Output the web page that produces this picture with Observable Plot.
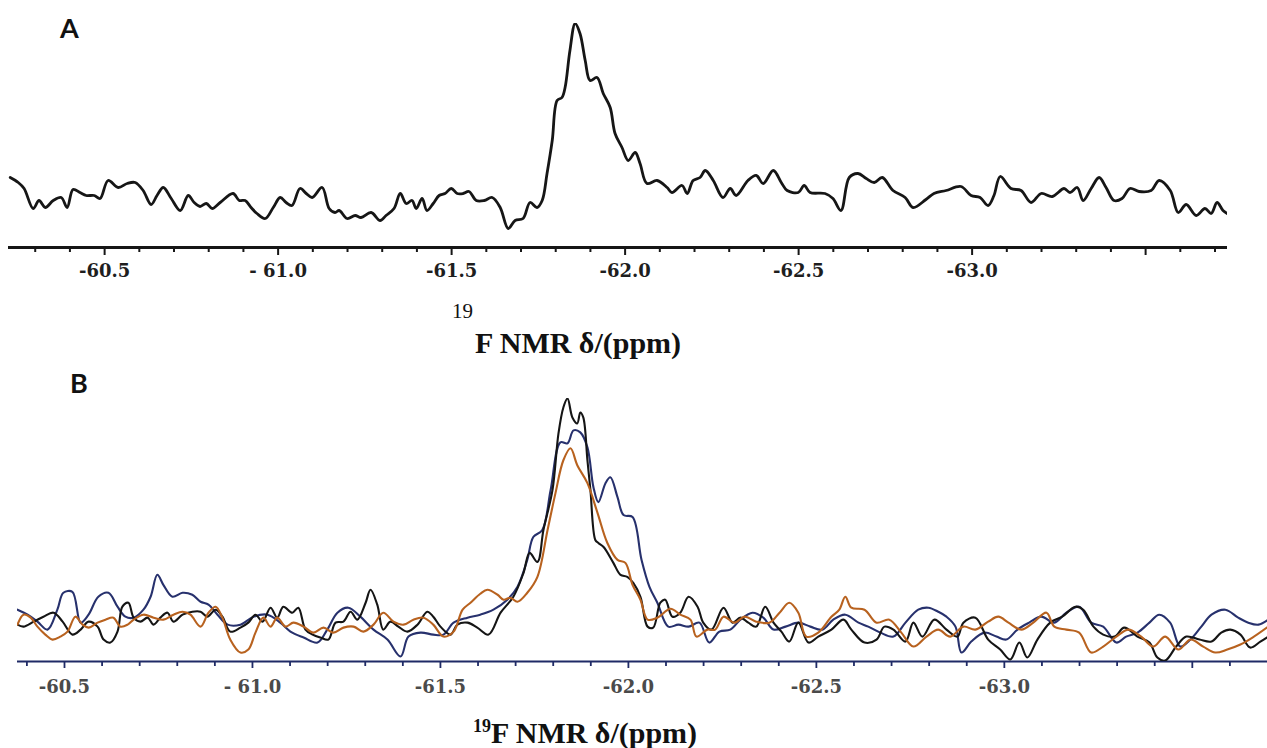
<!DOCTYPE html>
<html>
<head>
<meta charset="utf-8">
<script src="https://cdn.jsdelivr.net/npm/d3@7"></script>
<script src="https://cdn.jsdelivr.net/npm/@observablehq/plot@0.6"></script>
<style>
  html, body { margin: 0; padding: 0; background: #fff; }
  #root { position: relative; width: 1267px; height: 748px; background: #fff; overflow: hidden; }
  #panelA, #panelB { position: absolute; left: 0; }
  #panelA { top: 0; }
  #panelB { top: 360px; }
  #panelA text { font-family: "DejaVu Serif", serif; font-weight: bold; font-size: 18px; fill: #1e1e1e; }
  #panelB text { font-family: "DejaVu Serif", serif; font-weight: bold; font-size: 18px; fill: #4a4a4a; }
  #overlay { position: absolute; left: 0; top: 0; pointer-events: none; }
  .plabel { font-family: Lato, "Open Sans", sans-serif; font-weight: bold; font-size: 27px; fill: #111; }
  .xtitle { font-family: "Liberation Serif", serif; font-weight: bold; font-size: 30px; fill: #111; }
  .sup { font-family: "Liberation Serif", serif; font-weight: normal; font-size: 21px; fill: #111; }
</style>
</head>
<body>
<div id="root">
  <div id="panelA"></div>
  <div id="panelB"></div>
  <svg id="overlay" width="1267" height="748">
    <text class="plabel" x="60" y="38">A</text>
    <text class="sup" x="452" y="318">19</text>
    <text class="xtitle" x="475" y="353">F NMR δ/(ppm)</text>
    <text class="plabel" x="70" y="393">B</text>
    <text class="xtitle" x="473" y="743"><tspan font-size="18" dy="-11">19</tspan><tspan dy="11">F NMR δ/(ppm)</tspan></text>
  </svg>
</div>
<script>
// ---------- Panel A (single spectrum) ----------
const ppmA = [-60.228,-60.251,-60.268,-60.294,-60.311,-60.329,-60.352,-60.375,-60.392,-60.409,-60.429,-60.447,-60.470,-60.487,-60.510,-60.539,-60.565,-60.588,-60.611,-60.634,-60.651,-60.669,-60.692,-60.718,-60.741,-60.758,-60.775,-60.793,-60.810,-60.833,-60.870,-60.888,-60.905,-60.922,-60.939,-60.963,-60.986,-61.006,-61.023,-61.040,-61.063,-61.081,-61.098,-61.127,-61.147,-61.164,-61.176,-61.199,-61.222,-61.239,-61.268,-61.294,-61.311,-61.334,-61.352,-61.369,-61.386,-61.398,-61.415,-61.429,-61.447,-61.464,-61.481,-61.499,-61.516,-61.533,-61.550,-61.571,-61.594,-61.617,-61.640,-61.663,-61.683,-61.706,-61.726,-61.746,-61.761,-61.775,-61.790,-61.804,-61.818,-61.827,-61.841,-61.856,-61.870,-61.885,-61.899,-61.919,-61.937,-61.957,-61.971,-61.991,-62.009,-62.029,-62.043,-62.063,-62.092,-62.121,-62.135,-62.164,-62.179,-62.196,-62.216,-62.231,-62.254,-62.282,-62.303,-62.320,-62.354,-62.378,-62.398,-62.427,-62.450,-62.467,-62.499,-62.516,-62.533,-62.576,-62.599,-62.622,-62.646,-62.671,-62.695,-62.718,-62.741,-62.772,-62.807,-62.830,-62.867,-62.890,-62.925,-62.968,-62.997,-63.023,-63.046,-63.063,-63.081,-63.112,-63.141,-63.170,-63.199,-63.231,-63.265,-63.282,-63.303,-63.320,-63.343,-63.366,-63.386,-63.409,-63.432,-63.455,-63.481,-63.516,-63.539,-63.571,-63.594,-63.617,-63.646,-63.671,-63.689,-63.706,-63.723,-63.735];
const intA = [70,65,59,39,47,40,47,50,40,58,55,52,52,49,67,60,64,65,57,43,52,60,49,37,52,45,41,44,39,45,54,47,47,40,34,29,40,50,45,42,59,54,50,60,39,35,37,29,32,30,35,27,32,39,54,44,47,39,49,37,44,52,54,59,54,54,56,47,47,50,40,19,27,29,45,40,47,74,107,147,150,160,197,224,214,187,167,170,154,140,114,100,87,95,84,64,67,60,55,62,54,67,70,77,67,50,59,52,67,72,64,77,65,57,55,62,55,54,49,37,70,74,69,65,70,57,50,40,48,54,57,61,52,50,42,52,71,59,57,45,54,51,59,55,60,47,59,70,60,47,49,59,56,57,67,57,35,43,32,39,34,45,37,34];

// ---------- Panel B (three spectra) ----------
const seriesNames = ["trace 1 (navy)", "trace 2 (black)", "trace 3 (brown)"];
const seriesColors = ["#27316d", "#151515", "#b8621f"];

const ppmBlack = [-60.375,-60.391,-60.418,-60.444,-60.471,-60.495,-60.521,-60.543,-60.564,-60.588,-60.604,-60.622,-60.641,-60.654,-60.670,-60.684,-60.702,-60.721,-60.737,-60.755,-60.774,-60.790,-60.814,-60.840,-60.862,-60.880,-60.902,-60.920,-60.941,-60.968,-60.989,-61.008,-61.027,-61.048,-61.066,-61.082,-61.106,-61.122,-61.141,-61.160,-61.181,-61.202,-61.221,-61.242,-61.261,-61.279,-61.301,-61.314,-61.332,-61.348,-61.367,-61.388,-61.412,-61.439,-61.465,-61.481,-61.500,-61.527,-61.545,-61.572,-61.598,-61.628,-61.660,-61.694,-61.721,-61.737,-61.758,-61.774,-61.798,-61.814,-61.827,-61.838,-61.851,-61.864,-61.872,-61.880,-61.891,-61.899,-61.912,-61.920,-61.934,-61.960,-61.979,-61.997,-62.013,-62.032,-62.051,-62.066,-62.085,-62.098,-62.117,-62.138,-62.160,-62.184,-62.199,-62.221,-62.253,-62.277,-62.298,-62.319,-62.340,-62.364,-62.386,-62.407,-62.428,-62.452,-62.479,-62.505,-62.540,-62.572,-62.593,-62.628,-62.660,-62.681,-62.705,-62.737,-62.758,-62.782,-62.814,-62.846,-62.875,-62.891,-62.923,-62.957,-62.989,-63.016,-63.040,-63.061,-63.088,-63.122,-63.154,-63.189,-63.210,-63.237,-63.263,-63.293,-63.319,-63.354,-63.386,-63.407,-63.428,-63.457,-63.484,-63.519,-63.551,-63.577,-63.601,-63.628,-63.654,-63.681,-63.702];
const intBlack = [37,35,40,45,49,40,27,32,40,35,22,19,30,55,59,44,40,44,37,44,49,40,47,50,50,45,52,45,30,34,39,47,40,54,44,55,49,54,32,27,24,22,39,40,50,42,59,72,57,32,40,35,30,37,50,45,35,27,37,39,34,27,49,65,89,109,100,132,172,229,255,264,245,239,250,245,202,172,122,119,115,99,87,85,79,65,35,34,59,62,45,49,65,55,39,32,54,39,44,39,35,55,39,30,20,39,19,25,32,42,32,19,22,35,32,20,39,25,42,32,25,39,44,22,12,2,19,4,22,39,45,55,52,35,27,25,34,25,19,4,1,15,25,22,20,29,32,27,14,20,25];

const ppmBlue = [-60.375,-60.402,-60.428,-60.455,-60.481,-60.497,-60.521,-60.543,-60.564,-60.590,-60.617,-60.641,-60.662,-60.684,-60.710,-60.729,-60.747,-60.763,-60.787,-60.814,-60.840,-60.862,-60.883,-60.907,-60.934,-60.968,-61.003,-61.040,-61.074,-61.101,-61.136,-61.173,-61.199,-61.226,-61.255,-61.287,-61.322,-61.359,-61.394,-61.415,-61.447,-61.481,-61.508,-61.535,-61.572,-61.606,-61.641,-61.678,-61.705,-61.731,-61.747,-61.771,-61.793,-61.819,-61.838,-61.854,-61.872,-61.891,-61.907,-61.920,-61.939,-61.952,-61.971,-61.987,-62.011,-62.035,-62.056,-62.077,-62.106,-62.133,-62.160,-62.189,-62.215,-62.242,-62.271,-62.298,-62.330,-62.359,-62.386,-62.418,-62.452,-62.484,-62.516,-62.545,-62.577,-62.612,-62.638,-62.670,-62.705,-62.737,-62.771,-62.798,-62.824,-62.846,-62.870,-62.886,-62.912,-62.947,-62.979,-63.005,-63.035,-63.066,-63.098,-63.133,-63.165,-63.199,-63.231,-63.263,-63.298,-63.324,-63.354,-63.386,-63.412,-63.441,-63.468,-63.495,-63.524,-63.551,-63.588,-63.622,-63.649,-63.676,-63.702];
const intBlue = [52,47,40,32,52,69,70,39,47,65,69,55,45,44,52,65,87,77,65,69,67,60,57,47,37,37,45,47,39,30,24,19,32,49,54,45,32,22,5,25,29,27,27,39,44,47,52,62,75,102,125,132,172,220,219,232,230,215,175,160,179,185,165,147,145,102,75,59,35,37,35,39,19,30,32,42,49,44,32,35,39,35,32,42,47,39,35,29,25,39,52,54,50,45,35,9,20,29,25,22,32,39,45,39,49,55,39,35,19,25,29,39,47,39,15,22,35,47,52,44,39,37,42];

const ppmOrange = [-60.375,-60.391,-60.410,-60.428,-60.449,-60.468,-60.489,-60.508,-60.529,-60.548,-60.564,-60.588,-60.609,-60.630,-60.649,-60.668,-60.684,-60.710,-60.737,-60.763,-60.790,-60.814,-60.835,-60.862,-60.883,-60.902,-60.920,-60.941,-60.968,-60.989,-61.008,-61.029,-61.048,-61.066,-61.088,-61.109,-61.136,-61.162,-61.189,-61.215,-61.242,-61.269,-61.295,-61.322,-61.348,-61.375,-61.402,-61.428,-61.455,-61.481,-61.508,-61.535,-61.559,-61.580,-61.606,-61.625,-61.652,-61.668,-61.686,-61.705,-61.731,-61.758,-61.785,-61.806,-61.827,-61.846,-61.864,-61.891,-61.918,-61.944,-61.971,-61.992,-62.011,-62.032,-62.051,-62.077,-62.112,-62.138,-62.165,-62.181,-62.210,-62.231,-62.253,-62.282,-62.309,-62.340,-62.375,-62.402,-62.428,-62.452,-62.473,-62.505,-62.540,-62.561,-62.577,-62.593,-62.628,-62.660,-62.694,-62.726,-62.758,-62.793,-62.824,-62.856,-62.891,-62.923,-62.957,-62.984,-63.011,-63.045,-63.077,-63.112,-63.133,-63.165,-63.199,-63.231,-63.263,-63.298,-63.330,-63.364,-63.396,-63.428,-63.463,-63.495,-63.529,-63.561,-63.593,-63.628,-63.660,-63.702];
const intOrange = [37,47,44,35,27,22,25,30,45,37,34,39,42,44,35,37,42,47,44,42,47,50,47,35,49,55,44,22,9,12,29,44,35,44,35,39,35,29,34,29,34,35,30,37,49,40,37,42,44,37,25,30,52,59,68,72,67,62,64,60,69,85,132,169,202,214,197,179,149,119,102,99,77,62,42,44,53,47,42,25,32,32,45,39,45,40,39,49,59,49,25,29,45,52,65,54,52,39,42,29,15,25,32,25,35,32,40,45,39,32,39,49,35,32,29,9,15,25,32,25,15,25,12,22,15,9,12,17,24,35];

// ---------- Axis ticks ----------
const minorTicksA = [-60.3,-60.4,-60.6,-60.7,-60.8,-60.9,-61.1,-61.2,-61.3,-61.4,-61.6,-61.7,-61.8,-61.9,-62.1,-62.2,-62.3,-62.4,-62.6,-62.7,-62.8,-62.9,-63.1,-63.2,-63.3,-63.4,-63.6,-63.7];
const minorTicksB = [-60.4,-60.6,-60.7,-60.8,-60.9,-61.1,-61.2,-61.3,-61.4,-61.6,-61.7,-61.8,-61.9,-62.1,-62.2,-62.3,-62.4,-62.6,-62.7,-62.8,-62.9,-63.1,-63.2,-63.3,-63.4,-63.6];
const majorTicks = [-60.5,-61.0,-61.5,-62.0,-62.5,-63.0,-63.5];
const majorLabels = ["-60.5","- 61.0","-61.5","-62.0","-62.5","-63.0",""];

const labelMap = new Map(majorTicks.map((v, i) => [v, majorLabels[i]]));
const fmt = d => labelMap.get(d) ?? "";

const dataA = ppmA.map((p, i) => ({ppm: p, I: intA[i]}));
const mk = (pp, ii, s) => pp.map((p, i) => ({ppm: p, I: ii[i], s}));
const dataB = [
  ...mk(ppmBlue, intBlue, seriesNames[0]),
  ...mk(ppmBlack, intBlack, seriesNames[1]),
  ...mk(ppmOrange, intOrange, seriesNames[2])
];

const colA = "#161616";
const plotA = Plot.plot({
  width: 1267, height: 290,
  marginLeft: 8, marginRight: 40, marginTop: 23, marginBottom: 43,
  x: {domain: [-60.223, -63.736], axis: null},
  y: {domain: [0, 224], axis: null},
  marks: [
    Plot.ruleY([0], {stroke: colA, strokeWidth: 3}),
    Plot.axisX(minorTicksA, {tickSize: 5, tickFormat: () => "", stroke: colA, strokeWidth: 2, label: null}),
    Plot.axisX(majorTicks, {tickSize: 8, tickPadding: 9, tickFormat: fmt, stroke: colA, strokeWidth: 2, label: null}),
    Plot.line(dataA, {x: "ppm", y: "I", stroke: colA, strokeWidth: 2.8, curve: "catmull-rom", clip: true})
  ]
});
document.getElementById("panelA").appendChild(plotA);

const colAxisB = "#1f2a66";
const plotB = Plot.plot({
  width: 1267, height: 350,
  marginLeft: 17, marginRight: 0, marginTop: 38, marginBottom: 49,
  x: {domain: [-60.375, -63.7], axis: null},
  y: {domain: [0, 264], axis: null},
  color: {domain: seriesNames, range: seriesColors},
  marks: [
    Plot.ruleY([0], {stroke: colAxisB, strokeWidth: 2}),
    Plot.axisX(minorTicksB, {tickSize: 5, tickFormat: () => "", stroke: colAxisB, strokeWidth: 1.8, label: null}),
    Plot.axisX(majorTicks, {tickSize: 7, tickPadding: 12, tickFormat: fmt, stroke: colAxisB, strokeWidth: 1.8, label: null}),
    Plot.line(dataB, {x: "ppm", y: "I", z: "s", stroke: "s", strokeWidth: 2.1, curve: "catmull-rom", clip: true})
  ]
});
document.getElementById("panelB").appendChild(plotB);
</script>
</body>
</html>
